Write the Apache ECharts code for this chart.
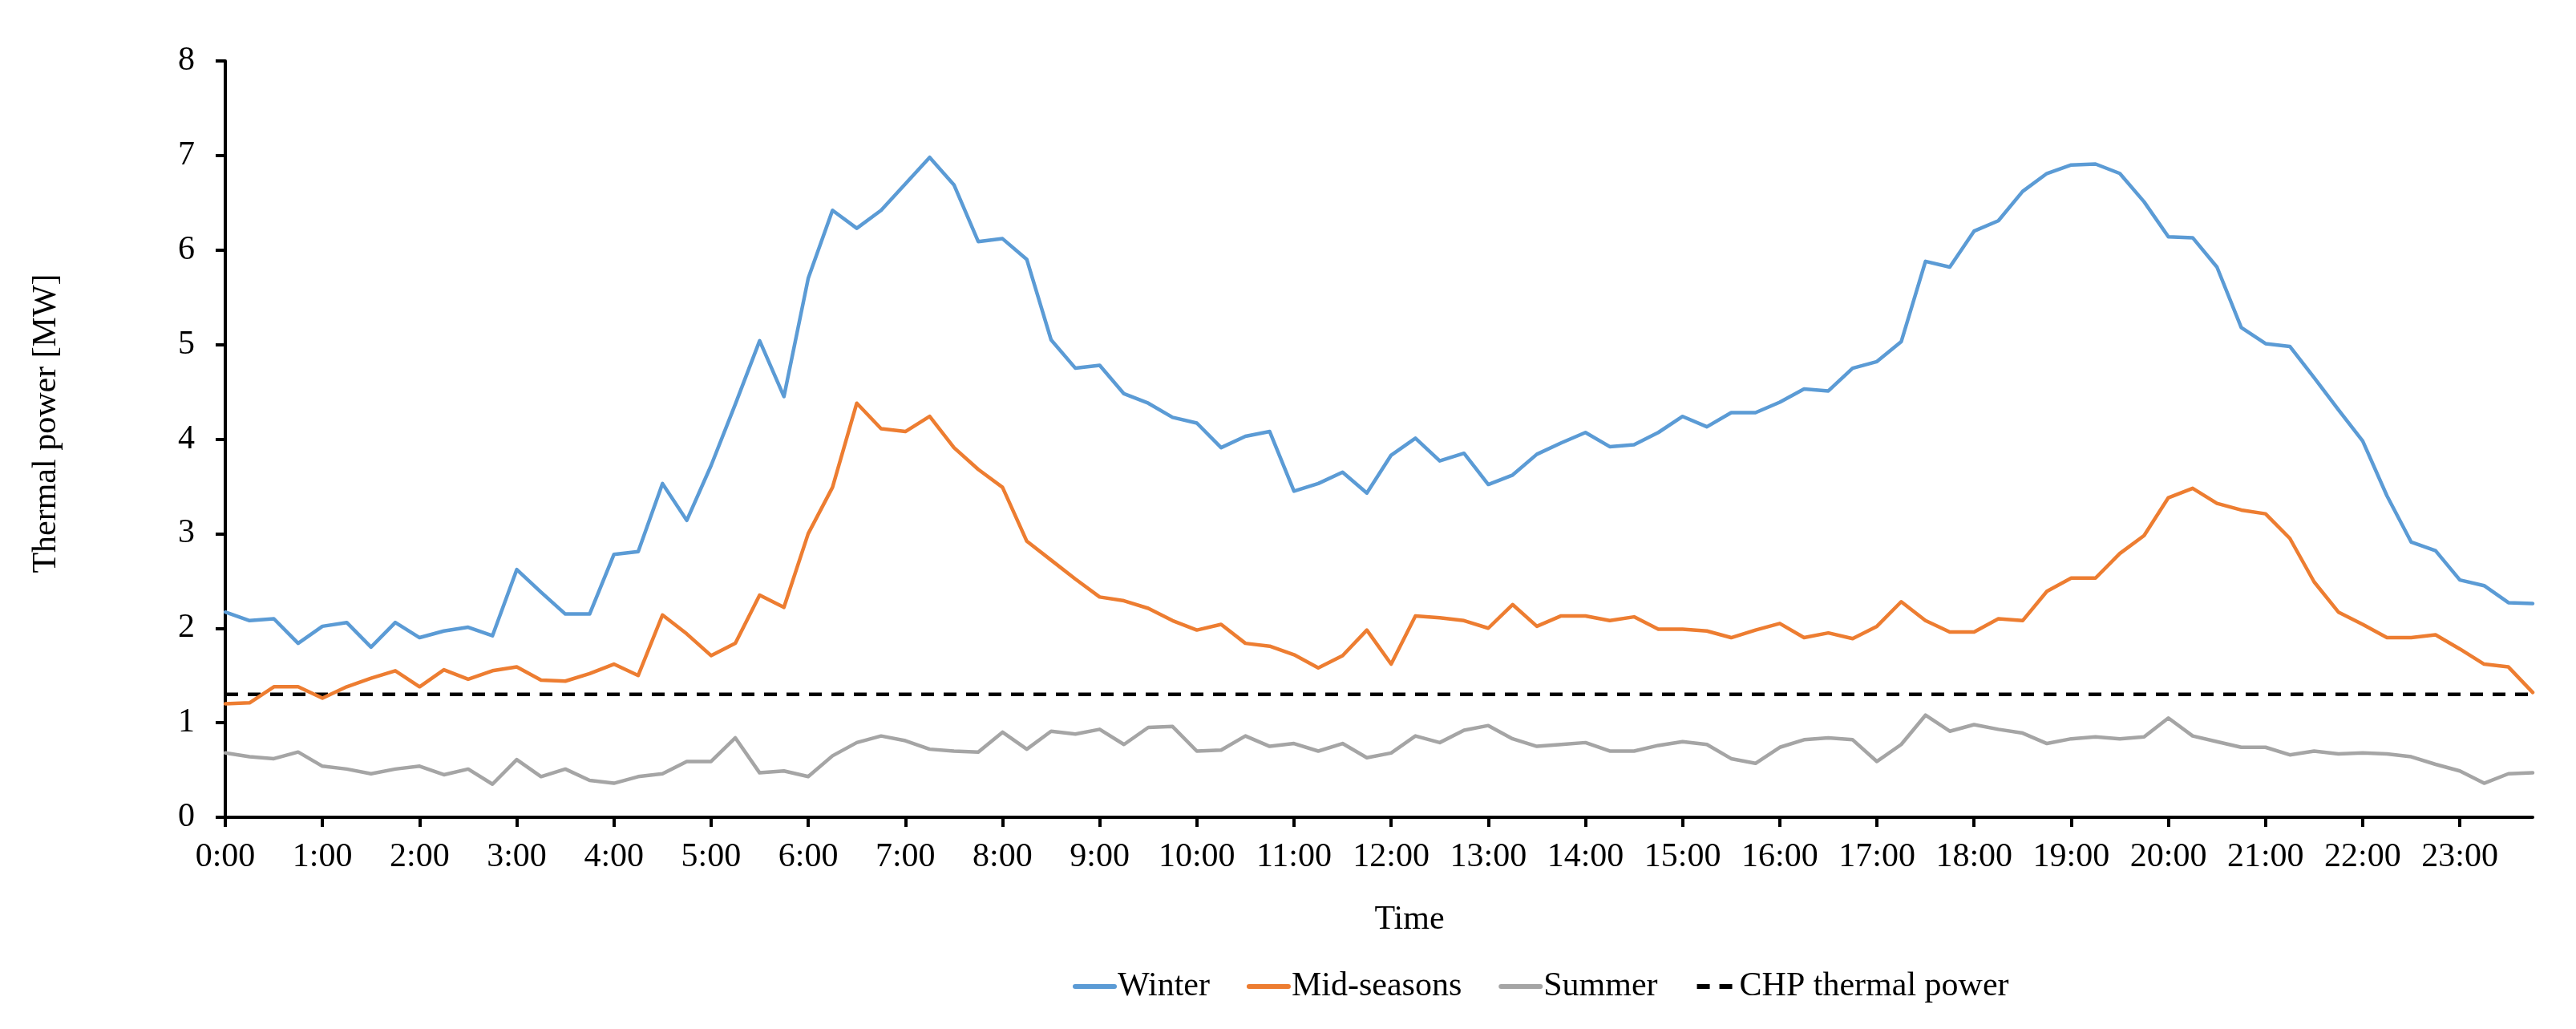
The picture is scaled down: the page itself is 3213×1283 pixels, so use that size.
<!DOCTYPE html>
<html>
<head>
<meta charset="utf-8">
<script src="https://cdn.jsdelivr.net/npm/echarts@6/dist/echarts.min.js"></script>
<style>
html,body{margin:0;padding:0;background:#fff;}
#chart{width:3213px;height:1283px;}
</style>
</head>
<body>
<div id="chart"></div>
<script>
var times = ["0:00","0:15","0:30","0:45","1:00","1:15","1:30","1:45","2:00","2:15","2:30","2:45",
"3:00","3:15","3:30","3:45","4:00","4:15","4:30","4:45","5:00","5:15","5:30","5:45",
"6:00","6:15","6:30","6:45","7:00","7:15","7:30","7:45","8:00","8:15","8:30","8:45",
"9:00","9:15","9:30","9:45","10:00","10:15","10:30","10:45","11:00","11:15","11:30","11:45",
"12:00","12:15","12:30","12:45","13:00","13:15","13:30","13:45","14:00","14:15","14:30","14:45",
"15:00","15:15","15:30","15:45","16:00","16:15","16:30","16:45","17:00","17:15","17:30","17:45",
"18:00","18:15","18:30","18:45","19:00","19:15","19:30","19:45","20:00","20:15","20:30","20:45",
"21:00","21:15","21:30","21:45","22:00","22:15","22:30","22:45","23:00","23:15","23:30","23:45"];

var winter = [2.17,2.08,2.10,1.84,2.02,2.06,1.80,2.06,1.90,1.97,2.01,1.92,
2.62,2.38,2.15,2.15,2.78,2.81,3.53,3.14,3.72,4.37,5.04,4.45,
5.70,6.42,6.23,6.42,6.70,6.98,6.69,6.09,6.12,5.90,5.05,4.75,
4.78,4.48,4.38,4.23,4.17,3.91,4.03,4.08,3.45,3.53,3.65,3.43,
3.83,4.01,3.77,3.85,3.52,3.62,3.84,3.96,4.07,3.92,3.94,4.07,
4.24,4.13,4.28,4.28,4.39,4.53,4.51,4.75,4.82,5.03,5.88,5.82,
6.20,6.31,6.62,6.81,6.90,6.91,6.81,6.51,6.14,6.13,5.82,5.18,
5.01,4.98,4.65,4.31,3.98,3.40,2.91,2.82,2.51,2.45,2.27,2.26];

var midSeasons = [1.20,1.21,1.38,1.38,1.26,1.38,1.47,1.55,1.38,1.56,1.46,1.55,
1.59,1.45,1.44,1.52,1.62,1.50,2.14,1.94,1.71,1.84,2.35,2.22,
3.00,3.49,4.38,4.11,4.08,4.24,3.91,3.68,3.49,2.92,2.72,2.52,
2.33,2.29,2.21,2.08,1.98,2.04,1.84,1.81,1.72,1.58,1.71,1.98,
1.62,2.13,2.11,2.08,2.00,2.25,2.02,2.13,2.13,2.08,2.12,1.99,
1.99,1.97,1.90,1.98,2.05,1.90,1.95,1.89,2.02,2.28,2.08,1.96,
1.96,2.10,2.08,2.39,2.53,2.53,2.79,2.98,3.38,3.48,3.32,3.25,
3.21,2.95,2.49,2.17,2.04,1.90,1.90,1.93,1.78,1.62,1.59,1.32];

var summer = [0.68,0.64,0.62,0.69,0.54,0.51,0.46,0.51,0.54,0.45,0.51,0.35,
0.61,0.43,0.51,0.39,0.36,0.43,0.46,0.59,0.59,0.84,0.47,0.49,
0.43,0.65,0.79,0.86,0.81,0.72,0.70,0.69,0.90,0.72,0.91,0.88,
0.93,0.77,0.95,0.96,0.70,0.71,0.86,0.75,0.78,0.70,0.78,0.63,
0.68,0.86,0.79,0.92,0.97,0.83,0.75,0.77,0.79,0.70,0.70,0.76,
0.80,0.77,0.62,0.57,0.74,0.82,0.84,0.82,0.59,0.77,1.08,0.91,
0.98,0.93,0.89,0.78,0.83,0.85,0.83,0.85,1.05,0.86,0.80,0.74,
0.74,0.66,0.70,0.67,0.68,0.67,0.64,0.56,0.49,0.36,0.46,0.47];

var chpLine = [["0:00", 1.3], ["23:45", 1.3]];

var seriesNames = ["Winter", "Mid-seasons", "Summer", "CHP thermal power"];
var yTicks = [0, 1, 2, 3, 4, 5, 6, 7, 8];

var FONT = "Liberation Serif";
var chart = echarts.init(document.getElementById('chart'), null, {renderer: 'canvas'});

function lineSeries(name, data, color, dashed) {
  return {
    name: name,
    type: 'line',
    data: data,
    symbol: 'none',
    smooth: false,
    lineStyle: {color: color, width: 4.5, type: dashed ? [16, 12] : 'solid', cap: dashed ? 'butt' : 'round', join: 'round'},
    itemStyle: {color: color},
    emphasis: {disabled: true}
  };
}

chart.setOption({
  animation: false,
  backgroundColor: '#ffffff',
  grid: {left: 281, right: 54, top: 76, bottom: 264, containLabel: false},
  legend: {
    data: seriesNames,
    left: 1333,
    top: 1204,
    itemWidth: 49,
    itemHeight: 14,
    itemGap: 46,
    itemStyle: {color: 'rgba(0,0,0,0)', borderWidth: 0, opacity: 0},
    lineStyle: {width: 6},
    textStyle: {fontFamily: FONT, fontSize: 42, color: '#000', padding: [0, 0, 0, -1]}
  },
  xAxis: {
    type: 'category',
    data: times,
    boundaryGap: false,
    axisLine: {lineStyle: {color: '#000', width: 4}},
    axisTick: {show: true, inside: false, length: 12, interval: 3, lineStyle: {color: '#000', width: 4}},
    axisLabel: {interval: 3, margin: 29, fontFamily: FONT, fontSize: 42, color: '#000'},
    splitLine: {show: false}
  },
  yAxis: {
    type: 'value',
    min: yTicks[0],
    max: yTicks[yTicks.length - 1],
    interval: 1,
    axisLine: {show: true, lineStyle: {color: '#000', width: 4}},
    axisTick: {show: true, inside: false, length: 12, lineStyle: {color: '#000', width: 4}},
    axisLabel: {margin: 38, fontFamily: FONT, fontSize: 42, color: '#000'},
    splitLine: {show: false}
  },
  graphic: [
    {type: 'text', x: 58, y: 528, rotation: Math.PI / 2,
     style: {text: 'Thermal power [MW]', fontFamily: FONT, fontSize: 42, fill: '#000', textAlign: 'center', textVerticalAlign: 'middle'}},
    {type: 'text', x: 1758, y: 1147,
     style: {text: 'Time', fontFamily: FONT, fontSize: 42, fill: '#000', textAlign: 'center', textVerticalAlign: 'middle'}}
  ],
  series: [
    lineSeries(seriesNames[3], chpLine, '#000000', true),
    lineSeries(seriesNames[0], winter, '#5B9BD5', false),
    lineSeries(seriesNames[1], midSeasons, '#ED7D31', false),
    lineSeries(seriesNames[2], summer, '#A5A5A5', false)
  ]
});
</script>
</body>
</html>
